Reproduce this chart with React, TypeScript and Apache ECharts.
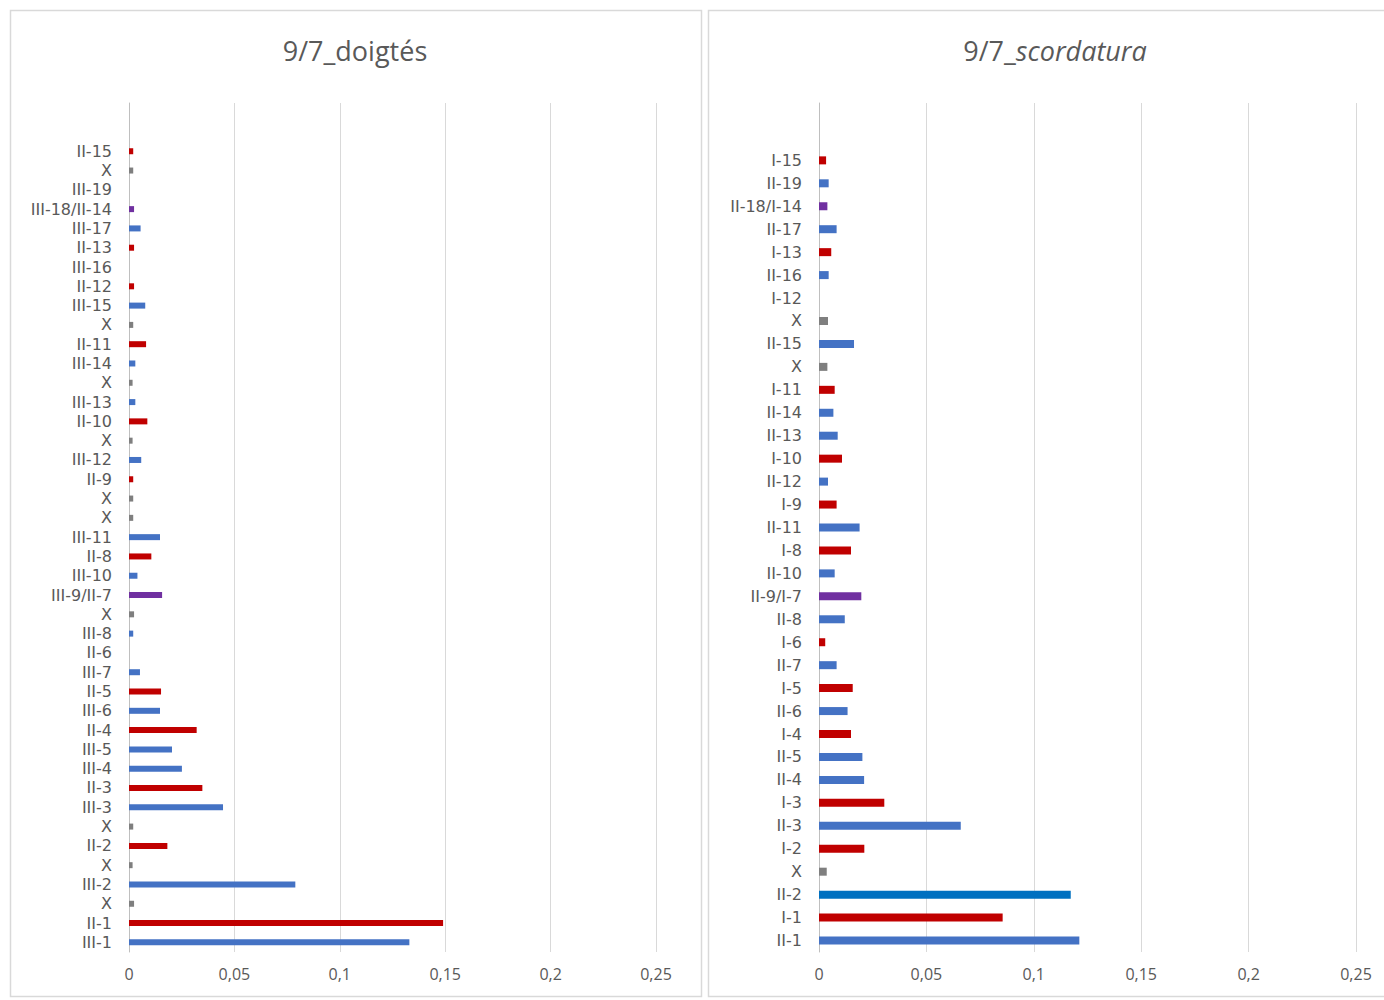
import React, { useEffect, useRef } from "react";
import * as echarts from "echarts";

// ---- data (top to bottom order) ----
const leftTitle = "9/7_doigtés";
const rightTitlePrefix = "9/7_";
const rightTitleItalic = "scordatura";

const leftCategories = [
  "", "",
  "II-15", "X", "III-19", "III-18/II-14", "III-17", "II-13", "III-16", "II-12", "III-15", "X",
  "II-11", "III-14", "X", "III-13", "II-10", "X", "III-12", "II-9", "X", "X",
  "III-11", "II-8", "III-10", "III-9/II-7", "X", "III-8", "II-6", "III-7", "II-5", "III-6",
  "II-4", "III-5", "III-4", "II-3", "III-3", "X", "II-2", "X", "III-2", "X", "II-1", "III-1",
];
const leftValues = [
  null, null,
  0.002, 0.002, 0, 0.0024, 0.0055, 0.0024, 0, 0.0024, 0.0077, 0.002,
  0.0081, 0.003, 0.0017, 0.003, 0.0087, 0.0017, 0.0058, 0.002, 0.002, 0.002,
  0.0147, 0.0106, 0.004, 0.0157, 0.0024, 0.002, 0, 0.0052, 0.0152, 0.0147,
  0.0321, 0.0204, 0.0251, 0.0348, 0.0446, 0.002, 0.0182, 0.0017, 0.0789, 0.0024, 0.149, 0.133,
];

const rightCategories = [
  "", "",
  "I-15", "II-19", "II-18/I-14", "II-17", "I-13", "II-16", "I-12", "X", "II-15", "X",
  "I-11", "II-14", "II-13", "I-10", "II-12", "I-9", "II-11", "I-8", "II-10", "II-9/I-7",
  "II-8", "I-6", "II-7", "I-5", "II-6", "I-4", "II-5", "II-4", "I-3", "II-3",
  "I-2", "X", "II-2", "I-1", "II-1",
];
const rightValues = [
  null, null,
  0.0033, 0.0045, 0.0039, 0.0082, 0.0057, 0.0045, 0, 0.0042, 0.0163, 0.0039,
  0.0073, 0.0067, 0.0087, 0.0107, 0.0042, 0.0082, 0.0189, 0.0149, 0.0073, 0.0197,
  0.012, 0.0029, 0.0082, 0.0157, 0.0133, 0.0149, 0.0202, 0.021, 0.0304, 0.066,
  0.0211, 0.0036, 0.1172, 0.0855, 0.1212,
];

const xTicks = [0, 0.05, 0.1, 0.15, 0.2, 0.25];

// ---- styles ----
const RED = "#C00000";
const BLUE = "#4472C4";
const BLUE2 = "#0070C0";
const PURPLE = "#7030A0";
const GRAY = "#7F7F7F";
const TEXT = "#595959";
const FONT = "'Open Sans', sans-serif";
const LABEL_FONT = "'DejaVu Sans', sans-serif";

function leftColor(c: string) {
  if (c.includes("/")) return PURPLE;
  if (c === "X") return GRAY;
  if (c.startsWith("III")) return BLUE;
  return RED;
}
function rightColor(c: string) {
  if (c.includes("/")) return PURPLE;
  if (c === "X") return GRAY;
  if (c === "II-2") return BLUE2;
  if (c.startsWith("II")) return BLUE;
  return RED;
}

const fmt = (v: number) => String(v).replace(".", ",");

function xAxis(gridIndex: number) {
  return {
    type: "value",
    gridIndex,
    min: xTicks[0],
    max: xTicks[xTicks.length - 1],
    interval: 0.05,
    axisLine: { show: false },
    axisTick: { show: false },
    splitLine: { show: true, lineStyle: { color: "#D9D9D9", width: 1 } },
    axisLabel: { color: TEXT, fontSize: 16, fontFamily: FONT, margin: 14, formatter: fmt },
  };
}
function yAxis(gridIndex: number, data: string[]) {
  return {
    type: "category",
    gridIndex,
    data,
    inverse: true,
    axisLine: { show: true, lineStyle: { color: "#BFBFBF", width: 1 } },
    axisTick: { show: false },
    axisLabel: { color: TEXT, fontSize: 16, lineHeight: 18, fontFamily: LABEL_FONT, margin: 17, interval: 0 },
  };
}

export default function App() {
  const ref = useRef<HTMLDivElement>(null);
  useEffect(() => {
    if (!ref.current) return;
    const chart = echarts.init(ref.current, null, { renderer: "svg" });
    chart.setOption({
      animation: false,
      backgroundColor: "#FFFFFF",
      graphic: [
        { type: "rect", z: -10, silent: true, shape: { x: 10.5, y: 10.5, width: 691, height: 986 }, style: { fill: "#FFFFFF", stroke: "#D9D9D9", lineWidth: 1.5 } },
        { type: "rect", z: -10, silent: true, shape: { x: 708.5, y: 10.5, width: 690, height: 986 }, style: { fill: "#FFFFFF", stroke: "#D9D9D9", lineWidth: 1.5 } },
        { type: "text", x: 355, y: 50, style: { text: leftTitle, fill: TEXT, fontSize: 27, fontFamily: FONT, textAlign: "center", textVerticalAlign: "middle" } },
        {
          type: "text", x: 1055, y: 50,
          style: {
            text: rightTitlePrefix + "{i|" + rightTitleItalic + "}",
            fill: TEXT, fontSize: 27, fontFamily: FONT, textAlign: "center", textVerticalAlign: "middle",
            rich: { i: { fontStyle: "italic", fontSize: 27, fontFamily: FONT, fill: TEXT } },
          },
        },
      ],
      grid: [
        { left: 129, top: 103, width: 527, height: 849 },
        { left: 819, top: 103, width: 537, height: 849 },
      ],
      xAxis: [xAxis(0), xAxis(1)],
      yAxis: [yAxis(0, leftCategories), yAxis(1, rightCategories)],
      series: [
        {
          type: "bar",
          xAxisIndex: 0,
          yAxisIndex: 0,
          barWidth: 6,
          data: leftValues.map((v, i) => ({ value: v, itemStyle: { color: leftColor(leftCategories[i]) } })),
        },
        {
          type: "bar",
          xAxisIndex: 1,
          yAxisIndex: 1,
          barWidth: 8,
          data: rightValues.map((v, i) => ({ value: v, itemStyle: { color: rightColor(rightCategories[i]) } })),
        },
      ],
    });
    return () => chart.dispose();
  }, []);
  return <div ref={ref} style={{ position: "absolute", left: 0, top: 0, width: 1384, height: 1000 }} />;
}
